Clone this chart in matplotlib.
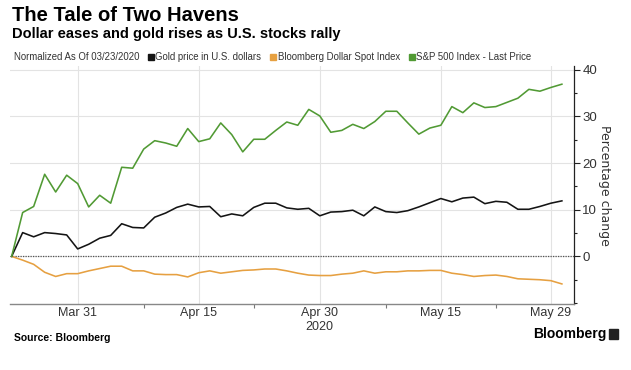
# _*_ coding: utf-8 _*_

"""
Gold vs dollar vs S&P 500, normalized to 03/23/2020.
"""

import pandas as pd
import matplotlib.pyplot as plt
from matplotlib.patches import Rectangle

# weekdays from 03/23/2020 to 06/01/2020 (holidays kept as flat points)
dates = pd.bdate_range('2020-03-23', '2020-06-01')

gold = [0, 5.1, 4.2, 5.1, 4.9, 4.6, 1.6, 2.6, 3.9, 4.5,
        7.0, 6.2, 6.1, 8.4, 9.3, 10.5, 11.2, 10.6, 10.7, 8.5,
        9.1, 8.7, 10.5, 11.4, 11.4, 10.4, 10.1, 10.3, 8.7, 9.5,
        9.6, 9.9, 8.7, 10.6, 9.6, 9.4, 9.8, 10.6, 11.5, 12.4,
        11.7, 12.5, 12.7, 11.3, 11.8, 11.6, 10.1, 10.1, 10.7, 11.4, 11.9]
dollar = [0, -0.8, -1.7, -3.4, -4.3, -3.7, -3.7, -3.1, -2.6, -2.1,
          -2.1, -3.1, -3.1, -3.8, -3.9, -3.9, -4.4, -3.5, -3.1, -3.6,
          -3.3, -3.0, -2.9, -2.7, -2.7, -3.1, -3.6, -4.0, -4.1, -4.1,
          -3.8, -3.6, -3.1, -3.6, -3.3, -3.3, -3.1, -3.1, -3.0, -3.0,
          -3.6, -3.9, -4.3, -4.1, -4.0, -4.3, -4.8, -4.9, -5.0, -5.2, -5.9]
spx = [0, 9.4, 10.7, 17.6, 13.8, 17.4, 15.6, 10.6, 13.1, 11.4,
       19.1, 18.9, 23.0, 24.8, 24.3, 23.6, 27.4, 24.6, 25.2, 28.6,
       26.1, 22.4, 25.1, 25.1, 27.0, 28.8, 28.1, 31.5, 30.1, 26.6,
       27.0, 28.3, 27.4, 28.9, 31.1, 31.1, 28.6, 26.2, 27.5, 28.1,
       32.1, 30.8, 32.9, 31.9, 32.1, 33.0, 33.9, 35.8, 35.4, 36.2, 36.9]

tick_dates = ['2020-03-31', '2020-04-15', '2020-04-30', '2020-05-15', '2020-05-29']
tick_labels = ['Mar 31', 'Apr 15', 'Apr 30', 'May 15', 'May 29']
minor_dates = ['2020-04-08', '2020-04-22', '2020-05-08', '2020-05-22']
series_names = ['Gold price in U.S. dollars', 'Bloomberg Dollar Spot Index',
                'S&P 500 Index - Last Price']

# colors
c_gold = '#141414'
c_dollar = '#e6a041'
c_spx = '#519a34'
c_grid = '#e3e3e3'
c_text = '#333333'
narrow = ['Liberation Sans Narrow', 'Liberation Sans', 'DejaVu Sans']

W, H = 631, 370
fig = plt.figure(figsize=(W / 100, H / 100), dpi=100)
fig.patch.set_facecolor('white')

# axes box in pixels: x 10..574, y 66..304
ax = fig.add_axes([10 / W, 1 - 304 / H, 564 / W, 238 / H])

x = list(range(len(dates)))
date_pos = {d.strftime('%Y-%m-%d'): i for i, d in enumerate(dates)}

ax.plot(x, dollar, color=c_dollar, lw=1.15, zorder=3)
ax.plot(x, gold, color=c_gold, lw=1.15, zorder=4)
ax.plot(x, spx, color=c_spx, lw=1.15, zorder=5)

# zero line
ax.axhline(0, color='#555555', lw=0.9, ls=(0, (1, 1)), zorder=2)

ax.set_xlim(-0.15, 51.1)
ax.set_ylim(-10.2, 40.8)

# x axis
ax.set_xticks([date_pos[d] for d in tick_dates])
ax.set_xticklabels(tick_labels, family=narrow)
ax.set_xticks([date_pos[d] for d in minor_dates], minor=True)
ax.tick_params(axis='x', which='major', length=0, pad=2, labelsize=9,
               labelcolor=c_text)
ax.tick_params(axis='x', which='minor', length=3, color='#777777', width=0.8)
ax.text(date_pos['2020-04-30'], -0.072, '2020', transform=ax.get_xaxis_transform(),
        ha='center', va='top', fontsize=9, family=narrow, color=c_text)

# y axis on the right
ax.yaxis.tick_right()
ax.yaxis.set_label_position('right')
ax.set_yticks([0, 10, 20, 30, 40])
ax.set_yticklabels(['0', '10', '20', '30', '40'], family=narrow)
ax.set_yticks([-10, -5, 5, 15, 25, 35], minor=True)
ax.tick_params(axis='y', which='major', length=4, width=0.8, pad=2,
               labelsize=9.5, labelcolor=c_text, color='#222222')
ax.tick_params(axis='y', which='minor', length=2.5, width=0.8, color='#222222')
ax.set_ylabel('Percentage change', rotation=270, labelpad=10, fontsize=9,
              color=c_text)

# grid
ax.grid(True, which='major', color=c_grid, lw=0.8, zorder=0)
for spine in ['left', 'top']:
    ax.spines[spine].set_visible(False)
ax.spines['right'].set_color('#222222')
ax.spines['right'].set_linewidth(0.9)
ax.spines['bottom'].set_color('#888888')
ax.spines['bottom'].set_linewidth(1.0)

# titles
fig.text(12 / W, 1 - 6 / H, 'The Tale of Two Havens', ha='left', va='top',
         fontsize=14.5, fontweight='bold', family='Liberation Sans', color='black')
fig.text(12 / W, 1 - 27 / H, 'Dollar eases and gold rises as U.S. stocks rally',
         ha='left', va='top', fontsize=10.5, fontweight='bold',
         family='Liberation Sans', color='black')

# legend row, laid out left to right
renderer = fig.canvas.get_renderer()
leg_y = 1 - 57 / H
t = fig.text(14 / W, leg_y, 'Normalized As Of 03/23/2020', ha='left',
             va='center', fontsize=6.9, family=narrow, color=c_text)
x_px = t.get_window_extent(renderer).x1 + 8
for name, col in zip(series_names, [c_gold, c_dollar, c_spx]):
    fig.patches.append(Rectangle((x_px / W, leg_y - 3 / H), 6 / W, 6 / H,
                                 transform=fig.transFigure, color=col))
    t = fig.text((x_px + 7.5) / W, leg_y, name, ha='left', va='center',
                 fontsize=6.9, family=narrow, color=c_text)
    x_px = t.get_window_extent(renderer).x1 + 9

# footer
fig.text(14 / W, 1 - 338 / H, 'Source: Bloomberg', ha='left', va='center',
         fontsize=7.5, fontweight='bold', family='Liberation Sans', color='black')
fig.text(606 / W, 1 - 334 / H, 'Bloomberg', ha='right', va='center',
         fontsize=10, fontweight='bold', family='Liberation Sans', color='black')
fig.patches.append(Rectangle((609 / W, 1 - 339 / H), 9 / W, 10 / H,
                             transform=fig.transFigure, color='#222222'))

fig.savefig('out.png', dpi=100, facecolor='white')
